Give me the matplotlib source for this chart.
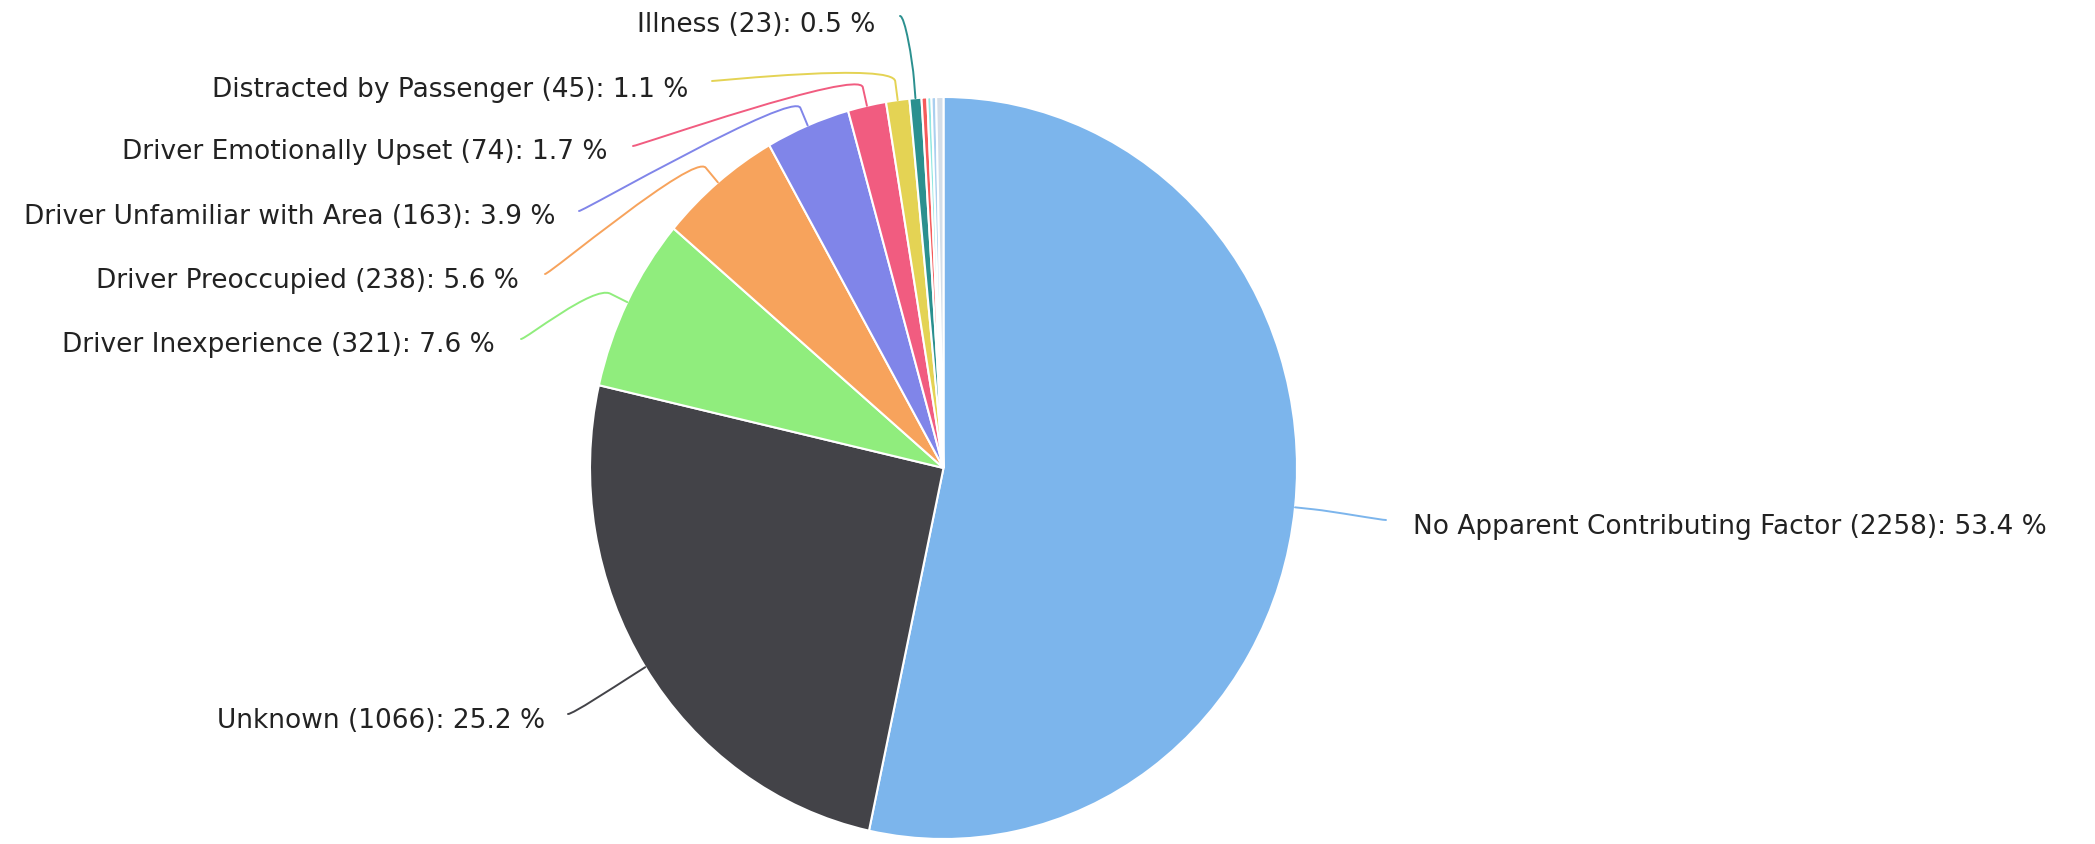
import math
import matplotlib
matplotlib.use("Agg")
import matplotlib.pyplot as plt
from matplotlib.path import Path
from matplotlib.patches import PathPatch

# Contributing factors for collisions (counts)
categories = [
    "No Apparent Contributing Factor",
    "Unknown",
    "Driver Inexperience",
    "Driver Preoccupied",
    "Driver Unfamiliar with Area",
    "Driver Emotionally Upset",
    "Distracted by Passenger",
    "Illness",
    "",
    "",
    "",
    "",
]
counts = [2258, 1066, 321, 238, 163, 74, 45, 23, 11, 8, 9, 14]
colors = [
    "#7cb5ec", "#434348", "#90ed7d", "#f7a35c", "#8085e9", "#f15c80",
    "#e4d354", "#2b908f", "#f45b5b", "#91e8e1", "#aacfef", "#d3dde8",
]

# Layout (pixels): figure size, pie centre and radii
W, H = 2095, 845
CX, CY = 943.5, 469.0
RX, RY = 353.5, 371.0
BREAK = 19.0  # connector elbow offset outside the pie edge

# Label placement in pixels: (text x, text y, side, connector start x, connector start y)
label_layout = {
    "No Apparent Contributing Factor": (1413, 527, "right", 1386, 521),
    "Unknown": (545, 721, "left", 568, 715),
    "Driver Inexperience": (495, 345, "left", 521, 340),
    "Driver Preoccupied": (519, 281, "left", 545, 275),
    "Driver Unfamiliar with Area": (555, 217, "left", 579, 212),
    "Driver Emotionally Upset": (608, 152, "left", 633, 147),
    "Distracted by Passenger": (688, 90, "left", 712, 82),
    "Illness": (875, 25, "left", 900, 17),
}


def to_data(px, py):
    return (px - CX) / RX, (CY - py) / RY


fig = plt.figure(figsize=(W / 100, H / 100), dpi=100)
fig.patch.set_facecolor("white")
ax = fig.add_axes([0, 0, 1, 1])

ax.pie(
    counts,
    colors=colors,
    startangle=90,
    counterclock=False,
    radius=1.0,
    center=(0, 0),
    wedgeprops=dict(edgecolor="white", linewidth=1.5),
)
ax.set_aspect("auto")
ax.set_xlim(-CX / RX, (W - CX) / RX)
ax.set_ylim(-(H - CY) / RY, CY / RY)
ax.axis("off")

total = sum(counts)
cum = 0.0
for name, value, color in zip(categories, counts, colors):
    mid = (cum + value / 2.0) / total * 360.0
    cum += value
    if not name:
        continue
    th = math.radians(mid)
    ux, uy = math.sin(th), -math.cos(th)
    tx, ty = CX + RX * ux, CY + RY * uy
    bx, by = tx + BREAK * ux, ty + BREAK * uy

    lx, ly, side, ax0, ay0 = label_layout[name]
    c1x = ax0 + (5 if side == "left" else -5)
    pts_px = [
        (ax0, ay0),
        (c1x, ay0),
        (2 * bx - tx, 2 * by - ty),
        (bx, by),
        (tx, ty),
    ]
    verts = [to_data(*p) for p in pts_px]
    codes = [Path.MOVETO, Path.CURVE4, Path.CURVE4, Path.CURVE4, Path.LINETO]
    ax.add_patch(PathPatch(Path(verts, codes), fill=False, edgecolor=color,
                           linewidth=1.4, capstyle="round", joinstyle="round"))

    pct = value / total * 100.0
    text = f"{name} ({value}): {pct:.1f} %"
    x_d, y_d = to_data(lx, ly)
    ax.text(x_d, y_d, text, ha="right" if side == "left" else "left",
            va="center", fontsize=19, color="#222222", family="DejaVu Sans")

fig.savefig("out.png", dpi=100, facecolor="white")
